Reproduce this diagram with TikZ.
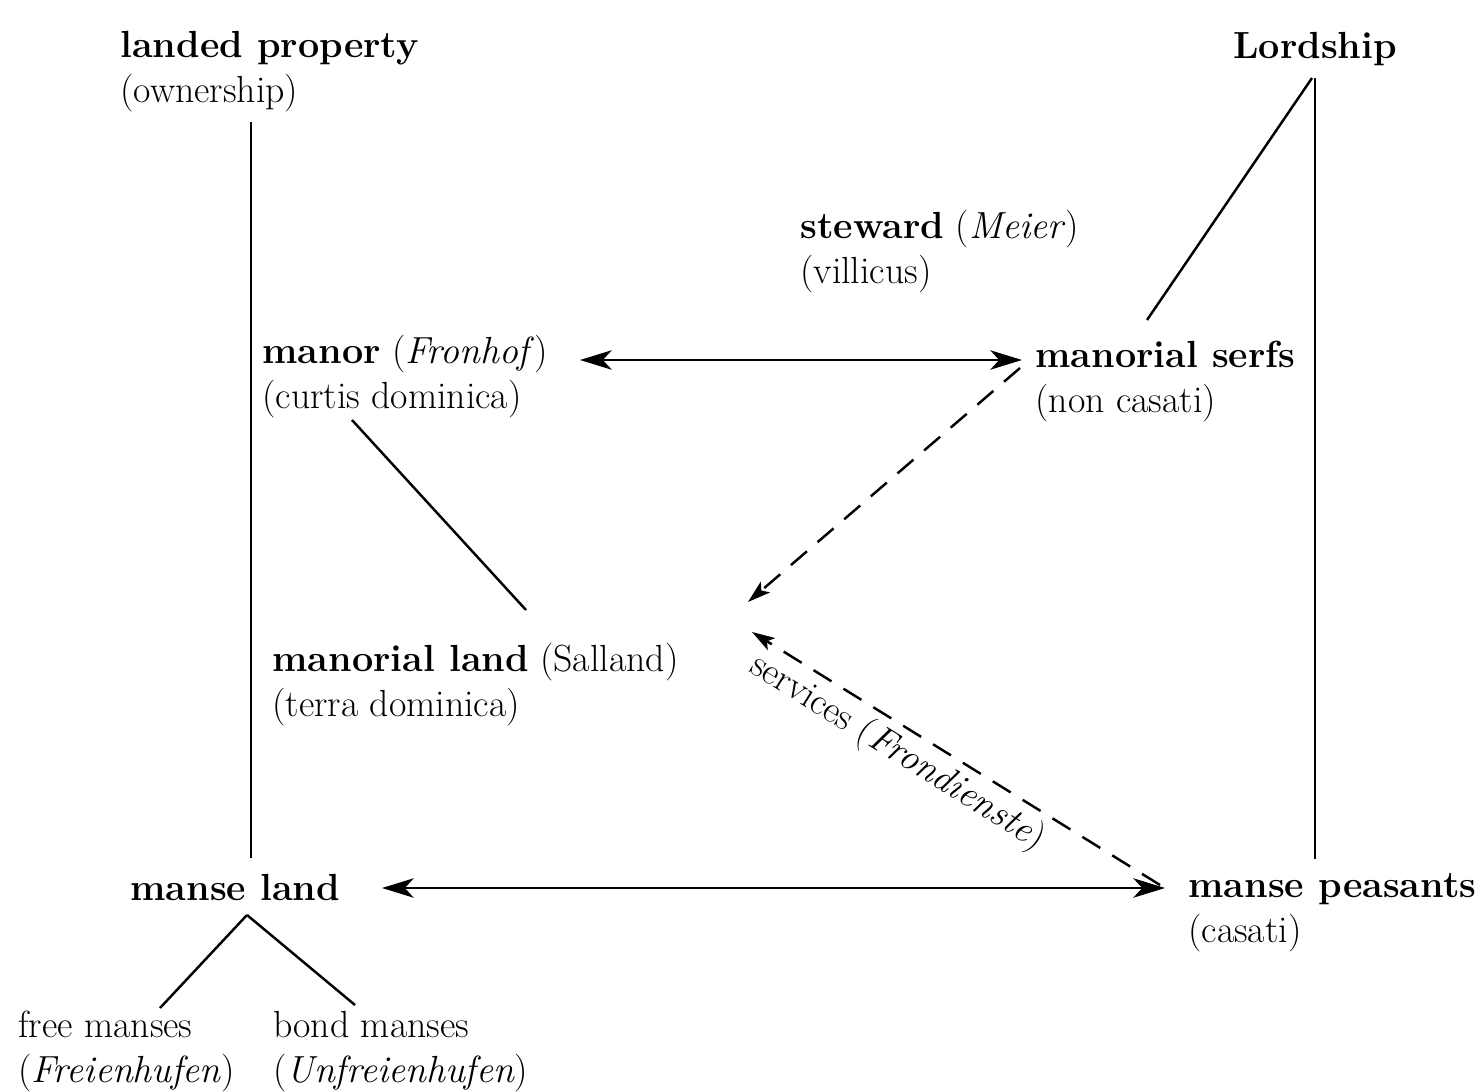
\documentclass[tikz,border=0pt]{standalone}
\usetikzlibrary{arrows.meta,calc}
\begin{document}
\begin{tikzpicture}[
x=0.02cm,y=-0.02cm,
lbl/.style={inner sep=0pt,anchor=north west,align=left,font=\fontsize{21.5}{25.5}\selectfont},
link/.style={line width=1.4pt},
twoway/.style={link,{Stealth[length=18pt,width=11pt,inset=5pt]}-{Stealth[length=18pt,width=11pt,inset=5pt]}},
flow/.style={line width=1.4pt,dash pattern=on 12pt off 8pt,-{Stealth[length=13pt,width=8pt,inset=3pt]}}
]

\useasboundingbox (0,0) rectangle (1478,1092);

%%%%%%%%%%%%%%%%%%%%%%%%%%%%%%%%%%%%%%%%%%%%%%%%%%%%%%%%%%%%%%
% TOP ROW
%%%%%%%%%%%%%%%%%%%%%%%%%%%%%%%%%%%%%%%%%%%%%%%%%%%%%%%%%%%%%%

\node[lbl](landed)
at (120,31)
{\textbf{landed property}\\(ownership)};

\node[lbl,anchor=north](lord)
at (1315,32)
{\textbf{Lordship}};

\node[lbl](steward)
at (800,210)
{\textbf{steward} (\textit{Meier})\\(villicus)};

%%%%%%%%%%%%%%%%%%%%%%%%%%%%%%%%%%%%%%%%%%%%%%%%%%%%%%%%%%%%%%
% MANOR
%%%%%%%%%%%%%%%%%%%%%%%%%%%%%%%%%%%%%%%%%%%%%%%%%%%%%%%%%%%%%%

\node[lbl](manor)
at (262,335)
{\textbf{manor} (\textit{Fronhof})\\(curtis dominica)};

\node[lbl](serfs)
at (1035,341)
{\textbf{manorial serfs}\\(non casati)};

\node[lbl](mland)
at (272,643)
{\textbf{manorial land} (Salland)\\(terra dominica)};

%%%%%%%%%%%%%%%%%%%%%%%%%%%%%%%%%%%%%%%%%%%%%%%%%%%%%%%%%%%%%%
% MANSES
%%%%%%%%%%%%%%%%%%%%%%%%%%%%%%%%%%%%%%%%%%%%%%%%%%%%%%%%%%%%%%

\node[lbl](manse)
at (130,874)
{\textbf{manse land}};

\node[lbl](peasants)
at (1188,873)
{\textbf{manse peasants}\\(casati)};

\node[lbl](free)
at (18,1011)
{free manses\\(\textit{Freienhufen})};

\node[lbl](bond)
at (273,1011)
{bond manses\\(\textit{Unfreienhufen})};

%%%%%%%%%%%%%%%%%%%%%%%%%%%%%%%%%%%%%%%%%%%%%%%%%%%%%%%%%%%%%%
% CONNECTIONS
%%%%%%%%%%%%%%%%%%%%%%%%%%%%%%%%%%%%%%%%%%%%%%%%%%%%%%%%%%%%%%

\draw[link] ($(landed.north west)+(131,91)$)--($(manse.north west)+(121,-16)$);
\draw[link] ($(lord.north)+(0,46)$)--($(lord.north |- peasants.north)+(0,-14)$);
\draw[link] ($(lord.north)+(-3,46)$)--($(serfs.north west)+(112,-21)$);
\draw[link] ($(manor.north west)+(90,85)$)--($(mland.north west)+(254,-33)$);
\draw[link] ($(manse.north west)+(117,41)$)--($(free.north west)+(142,-3)$);
\draw[link] ($(manse.north west)+(117,41)$)--($(bond.north west)+(82,-6)$);

\draw[twoway] ($(manor.north west)+(318,25)$)--($(serfs.north west)+(-13,19)$);
\draw[twoway] ($(manse.north west)+(252,14)$)--($(peasants.north west)+(-23,15)$);

\draw[flow] ($(serfs.north west)+(-15,27)$)--($(mland.north west)+(476,-41)$);
\draw[flow] ($(peasants.north west)+(-28,12)$)--($(mland.north west)+(480,-11)$)
node[pos=0.61,sloped,below,font=\fontsize{21.5}{25.5}\selectfont]{services (\textit{Frondienste})};

\end{tikzpicture}
\end{document}
